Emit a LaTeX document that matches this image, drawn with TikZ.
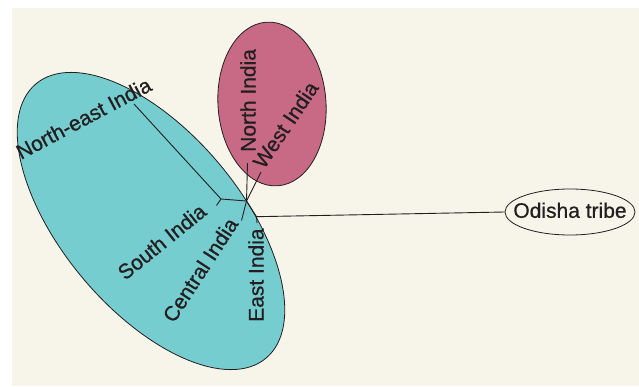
\documentclass[tikz,border=0pt]{standalone}
\usepackage{fontspec}
\setmainfont{Liberation Sans}
\newfontfamily\labfont{Liberation Sans}[FakeBold=0.7]
\usetikzlibrary{shapes.geometric}
\definecolor{bgc}{HTML}{F7F4EA}
\definecolor{cyanfill}{HTML}{76CDD0}
\definecolor{pinkfill}{HTML}{C86A85}
\definecolor{ink}{HTML}{231F20}
\tikzset{
  branch/.style={draw=ink, line width=0.9pt},
  leaf/.style={anchor=base west, inner sep=0pt, text=ink, font=\labfont\fontsize{21}{24}\selectfont},
  group/.style={draw=ink, line width=0.8pt},
}
\begin{document}
\begin{tikzpicture}[x=1pt,y=1pt]
\useasboundingbox (0,0) rectangle (639,386);
\fill[bgc] (12,0) rectangle (639,378);
% group ellipses
\draw[group, fill=cyanfill, rotate around={-50:(151,165)}] (151,165) ellipse (179 and 89);
\draw[group, fill=pinkfill, rotate around={4:(272,282)}] (272,282) ellipse (54 and 82);
% Odisha node
\node[ellipse, draw=ink, line width=0.8pt, inner sep=0pt, minimum width=130pt, minimum height=46pt,
      text=ink, font=\labfont\fontsize{21}{24}\selectfont] (od) at (570,174)
      {\smash{\raisebox{-5.8pt}{\makebox[0pt]{Odisha tribe}}}};
% tree coordinates
\coordinate (A) at (221,187);
\coordinate (J) at (246.5,185);
\coordinate (B) at (256.5,169.3);
\coordinate (ne) at (134,282);
\coordinate (so) at (216.5,180.5);
\coordinate (no) at (247.5,223);
\coordinate (we) at (261,214);
\coordinate (ce) at (241.5,165.5);
\coordinate (ea) at (257,163);
% branches
\draw[branch] (ne) -- (A);
\draw[branch] (A) -- (so);
\draw[branch] (A) -- (J);
\draw[branch] (J) -- (no);
\draw[branch] (J) -- (we);
\draw[branch] (J) -- (ce);
\draw[branch] (J) -- (B);
\draw[branch] (B) -- (ea);
\draw[branch] (B) -- (od.west);
% labels
\node[leaf, rotate=28] (lne) at (21,226) {North-east India};
\node[leaf, rotate=39] (lso) at (125,105) {South India};
\node[leaf, rotate=57] (lce) at (174,62) {Central India};
\node[leaf, rotate=90] (lea) at (263.5,64) {East India};
\node[leaf, rotate=90] (lno) at (255.5,234) {North India};
\node[leaf, rotate=56] (lwe) at (264,216) {West India};
\end{tikzpicture}
\end{document}
